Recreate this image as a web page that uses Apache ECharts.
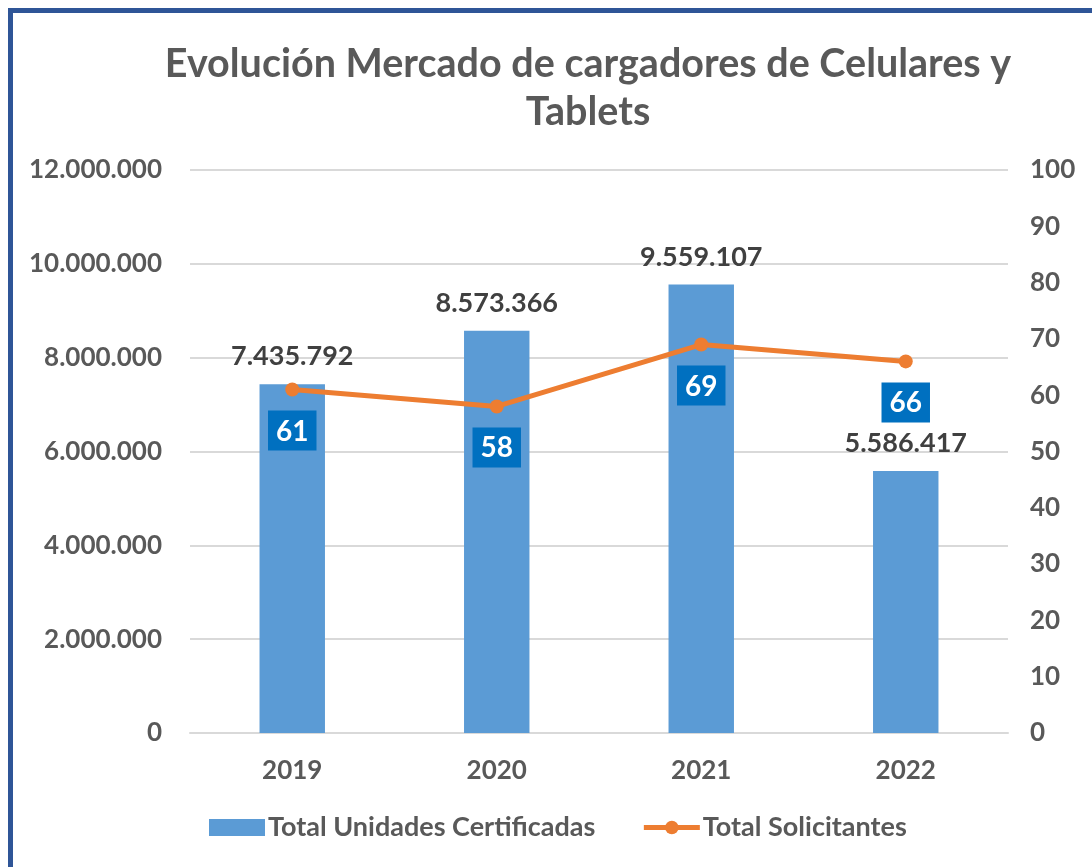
<!DOCTYPE html>
<html>
<head>
<meta charset="utf-8">
<script src="https://cdn.jsdelivr.net/npm/echarts@6/dist/echarts.min.js"></script>
<style>
  html, body { margin: 0; padding: 0; background: #fff; }
  #frame {
    position: absolute; left: 8px; top: 8px; width: 1100px; height: 880px;
    border-left: 5px solid #2F5597; border-top: 5px solid #2F5597;
  }
  #chart { position: absolute; left: 0; top: 0; width: 1092px; height: 867px; }
</style>
</head>
<body>
<div id="frame"></div>
<div id="chart"></div>
<script>
const years = ["2019", "2020", "2021", "2022"]
const unidades = [7435792, 8573366, 9559107, 5586417]
const solicitantes = [61, 58, 69, 66]

const fmt = (v) => String(v).replace(/\B(?=(\d{3})+(?!\d))/g, ".")
const gray = "#595959"
const font = "Lato"

const chart = echarts.init(document.getElementById("chart"), null, { renderer: "canvas" })

chart.setOption({
  backgroundColor: "transparent",
  animation: false,
  textStyle: { fontFamily: font },
  title: {
    text: "Evolución Mercado de cargadores de Celulares y\nTablets",
    left: 583,
    textAlign: "center",
    top: 35,
    textStyle: { fontFamily: font, fontSize: 39.5, fontWeight: "bold", color: gray, lineHeight: 48 },
  },
  grid: { left: 190, right: 84, top: 170, bottom: 134 },
  legend: {
    bottom: 21,
    left: 204,
    itemGap: 46,
    itemWidth: 56,
    itemHeight: 17,
    textStyle: { fontFamily: font, fontSize: 27, fontWeight: "bold", color: gray, padding: [0, 0, 0, -2] },
    data: [
      { name: "Total Unidades Certificadas", icon: "rect" },
      { name: "Total Solicitantes", lineStyle: { width: 5 } },
    ],
  },
  xAxis: {
    type: "category",
    data: years,
    axisTick: { show: false },
    axisLine: { lineStyle: { color: "#d9d9d9", width: 2 } },
    axisLabel: { color: gray, fontSize: 26, fontWeight: "bold", margin: 25 },
  },
  yAxis: [
    {
      type: "value",
      min: 0, max: 12000000, interval: 2000000,
      axisLabel: { color: gray, fontSize: 26, fontWeight: "bold", margin: 28, formatter: fmt },
      splitLine: { lineStyle: { color: "#d9d9d9", width: 2 } },
    },
    {
      type: "value",
      min: 0, max: 100, interval: 10,
      axisLabel: { color: gray, fontSize: 26, fontWeight: "bold", margin: 22 },
      splitLine: { show: false },
    },
  ],
  series: [
    {
      name: "Total Unidades Certificadas",
      type: "bar",
      data: unidades,
      barWidth: "32%",
      itemStyle: { color: "#5B9BD5" },
      label: {
        show: true, position: "top", distance: 14,
        color: "#404040", fontSize: 27, fontWeight: "bold", formatter: (p) => fmt(p.value),
      },
    },
    {
      name: "Total Solicitantes",
      type: "line",
      yAxisIndex: 1,
      data: solicitantes,
      symbol: "circle",
      symbolSize: 14,
      lineStyle: { color: "#ED7D31", width: 5 },
      itemStyle: { color: "#ED7D31" },
      label: {
        show: true, position: "bottom", distance: 14,
        color: "#fff", fontSize: 28, fontWeight: "bold",
        backgroundColor: "#0070C0", padding: [7, 8, 5, 8],
      },
    },
  ],
})
</script>
</body>
</html>
